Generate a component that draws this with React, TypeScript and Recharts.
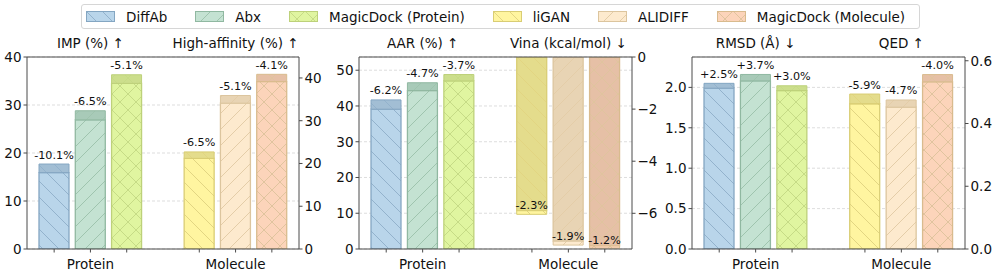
import React from "react";
import { BarChart, Bar, XAxis, YAxis, CartesianGrid, Cell, LabelList } from "recharts";

const FONT = "'DejaVu Sans', Verdana, sans-serif";
const SPINE = "#4a4a4a";
const TXT = "#111";

// x slots: three protein methods, an empty gap, three molecule methods
const slots = ["DiffAb", "Abx", "MagicDock (Protein)", " ", "liGAN", "ALIDIFF", "MagicDock (Molecule)"];
const groupLabels = ["", "Protein", "", "", "", "Molecule", ""];
const proteinKeys = ["diffab", "abx", "mdp"];
const moleculeKeys = ["ligan", "alidiff", "mdm"];

// IMP (%) ↑  (left axis, panel 1)
const impTotal = [17.7, 28.8, 36.3];
const impInner = [15.9, 26.9, 34.5];
const impPct = ["-10.1%", "-6.5%", "-5.1%"];
// High-affinity (%) ↑  (right axis, panel 1)
const affTotal = [22.7, 35.9, 40.85];
const affInner = [21.2, 34.1, 39.15];
const affPct = ["-6.5%", "-5.1%", "-4.1%"];
// AAR (%) ↑
const aarTotal = [41.7, 46.5, 48.8];
const aarInner = [39.1, 44.3, 47.0];
const aarPct = ["-6.2%", "-4.7%", "-3.7%"];
// Vina (kcal/mol) ↓
const vinaTotal = [-6.04, -7.22, -7.34];
const vinaInner = [-5.9, -7.07, -7.25];
const vinaPct = ["-2.3%", "-1.9%", "-1.2%"];
// RMSD (Å) ↓
const rmsdTotal = [2.05, 2.16, 2.02];
const rmsdInner = [1.99, 2.08, 1.96];
const rmsdPct = ["+2.5%", "+3.7%", "+3.0%"];
// QED ↑
const qedTotal = [0.494, 0.475, 0.556];
const qedInner = [0.463, 0.452, 0.533];
const qedPct = ["-5.9%", "-4.7%", "-4.0%"];

const legendNames = ["DiffAb", "Abx", "MagicDock (Protein)", "liGAN", "ALIDIFF", "MagicDock (Molecule)"];
const legendKeys = [...proteinKeys, ...moleculeKeys];

const styles: Record<string, { light: string; dark: string; edge: string; hatch: string; kind: string }> = {
  diffab: { light: "#b9d5ea", dark: "#a2bed4", edge: "#84a6c2", hatch: "#93b2cc", kind: "back" },
  abx: { light: "#c4e2d2", dark: "#a8cab8", edge: "#90b8a1", hatch: "#9fc4ae", kind: "fwd" },
  mdp: { light: "#e0f5a0", dark: "#ccde8c", edge: "#bdd17a", hatch: "#c6db86", kind: "cross" },
  ligan: { light: "#fff5a0", dark: "#e4dc8c", edge: "#d9cd74", hatch: "#e2d582", kind: "back" },
  alidiff: { light: "#fdeace", dark: "#e8d4b4", edge: "#dcc59e", hatch: "#e4cda8", kind: "fwd" },
  mdm: { light: "#fcd4ba", dark: "#e6c0a6", edge: "#d9bb8e", hatch: "#e0c49e", kind: "cross" },
};

function buildRows(lTot: number[], lIn: number[], lPct: string[], rTot: number[], rIn: number[], rPct: string[]) {
  return slots.map((slot, i) => {
    if (i < 3) return { slot, lInner: lIn[i], lBand: lTot[i] - lIn[i], lPct: lPct[i] };
    if (i > 3) return { slot, rInner: rIn[i - 4], rBand: rTot[i - 4] - rIn[i - 4], rPct: rPct[i - 4] };
    return { slot };
  });
}

const keyOf = (i: number) => (i < 3 ? proteinKeys[i] : i > 3 ? moleculeKeys[i - 4] : null);

function Hatch({ id, bg, line, kind }: { id: string; bg: string; line: string; kind: string }) {
  const s = 16;
  const back = `M0,0 L${s},${s} M${-s / 4},${(3 * s) / 4} L${s / 4},${(5 * s) / 4} M${(3 * s) / 4},${-s / 4} L${(5 * s) / 4},${s / 4}`;
  const fwd = `M0,${s} L${s},0 M${-s / 4},${s / 4} L${s / 4},${-s / 4} M${(3 * s) / 4},${(5 * s) / 4} L${(5 * s) / 4},${(3 * s) / 4}`;
  const d = kind === "back" ? back : kind === "fwd" ? fwd : back + " " + fwd;
  return (
    <pattern id={id} patternUnits="userSpaceOnUse" width={s} height={s}>
      <rect width={s} height={s} fill={bg} />
      <path d={d} stroke={line} strokeWidth={1} fill="none" />
    </pattern>
  );
}

function patternDefs(prefix: string) {
  return Object.keys(styles).flatMap((k) => [
    <Hatch key={k + "l"} id={`${prefix}-${k}-light`} bg={styles[k].light} line={styles[k].hatch} kind={styles[k].kind} />,
    <Hatch key={k + "d"} id={`${prefix}-${k}-dark`} bg={styles[k].dark} line={styles[k].hatch} kind={styles[k].kind} />,
  ]);
}

const bottomTick = (props: any) => {
  const { x, y, index } = props;
  return (
    <g>
      {index !== 3 && <line x1={x} x2={x} y1={y} y2={y + 3.5} stroke={SPINE} strokeWidth={1} />}
      {groupLabels[index] && (
        <text x={x} y={y + 20} textAnchor="middle" fontSize={13.5} fill={TXT}>
          {groupLabels[index]}
        </text>
      )}
    </g>
  );
};

const topTick = (titles: string[]) => (props: any) => {
  const { x, y, index } = props;
  const t = index === 1 ? titles[0] : index === 5 ? titles[1] : "";
  if (!t) return <g />;
  return (
    <text x={x} y={y - 9.5} textAnchor="middle" fontSize={13.5} fill={TXT}>
      {t}
    </text>
  );
};

const pctLabel = (gap: number) => (props: any) => {
  const vb = props.viewBox || props;
  const { x, y, width, height } = vb;
  const value = props.value;
  if (!value) return null;
  const top = Math.min(Number(y), Number(y) + Number(height));
  return (
    <text x={Number(x) + Number(width) / 2} y={top - gap} textAnchor="middle" fontSize={11.2} fill={TXT}>
      {value}
    </text>
  );
};

type AxisCfg = { domain: [number, number]; ticks: number[]; fmt: (v: number) => string; width: number };

function Panel(p: {
  id: string;
  left: number;
  width: number;
  rows: any[];
  la: AxisCfg;
  ra: AxisCfg;
  titles: string[];
  gapR: number;
  invertR?: boolean;
}) {
  const tickStyle = { fill: TXT, fontSize: 13.5 };
  const shade = (i: number, part: "inner" | "band", invert?: boolean) => {
    const k = keyOf(i);
    if (!k) return "none";
    const dark = part === "band" ? !invert : !!invert;
    return `url(#${p.id}-${k}-${dark ? "dark" : "light"})`;
  };
  const edge = (i: number) => {
    const k = keyOf(i);
    return k ? styles[k].edge : "none";
  };
  return (
    <div style={{ position: "absolute", left: p.left, top: 30 }}>
      <BarChart
        width={p.width}
        height={246}
        data={p.rows}
        margin={{ top: 0, right: 0, bottom: 0, left: 0 }}
        barGap={-30}
        barSize={30}
      >
        <defs>{patternDefs(p.id)}</defs>
        <CartesianGrid yAxisId="left" vertical={false} stroke="#d4d4d4" strokeDasharray="3 2" strokeWidth={0.8} />
        <XAxis
          dataKey="slot"
          interval={0}
          height={27}
          tickSize={0}
          tickMargin={0}
          tickLine={false}
          axisLine={{ stroke: SPINE }}
          padding={{ left: 9, right: 9 }}
          tick={bottomTick}
        />
        <XAxis
          xAxisId="top"
          orientation="top"
          dataKey="slot"
          interval={0}
          height={27}
          tickSize={0}
          tickMargin={0}
          tickLine={false}
          axisLine={{ stroke: SPINE }}
          padding={{ left: 9, right: 9 }}
          tick={topTick(p.titles)}
        />
        <YAxis
          yAxisId="left"
          orientation="left"
          width={p.la.width}
          domain={p.la.domain}
          ticks={p.la.ticks}
          tickFormatter={p.la.fmt}
          allowDataOverflow
          tickSize={3.5}
          tickMargin={2}
          tick={tickStyle}
          axisLine={{ stroke: SPINE }}
          tickLine={{ stroke: SPINE }}
        />
        <YAxis
          yAxisId="right"
          orientation="right"
          width={p.ra.width}
          domain={p.ra.domain}
          ticks={p.ra.ticks}
          tickFormatter={p.ra.fmt}
          allowDataOverflow
          tickSize={3.5}
          tickMargin={2}
          tick={tickStyle}
          axisLine={{ stroke: SPINE }}
          tickLine={{ stroke: SPINE }}
        />
        <Bar yAxisId="left" dataKey="lInner" stackId="L" isAnimationActive={false} strokeWidth={1.3}>
          {p.rows.map((_, i) => (
            <Cell key={i} fill={shade(i, "inner")} stroke={edge(i)} />
          ))}
        </Bar>
        <Bar yAxisId="left" dataKey="lBand" stackId="L" isAnimationActive={false} strokeWidth={1}>
          {p.rows.map((_, i) => (
            <Cell key={i} fill={shade(i, "band")} stroke={edge(i)} />
          ))}
          <LabelList dataKey="lPct" content={pctLabel(5.5)} />
        </Bar>
        <Bar yAxisId="right" dataKey="rInner" stackId="R" isAnimationActive={false} strokeWidth={1.3}>
          {p.rows.map((_, i) => (
            <Cell key={i} fill={shade(i, "inner", p.invertR)} stroke={edge(i)} />
          ))}
        </Bar>
        <Bar yAxisId="right" dataKey="rBand" stackId="R" isAnimationActive={false} strokeWidth={1}>
          {p.rows.map((_, i) => (
            <Cell key={i} fill={shade(i, "band", p.invertR)} stroke={edge(i)} />
          ))}
          <LabelList dataKey="rPct" content={pctLabel(p.gapR)} />
        </Bar>
      </BarChart>
    </div>
  );
}

function Legend() {
  return (
    <div
      style={{
        position: "absolute",
        left: 81,
        top: 4,
        width: 833,
        height: 23,
        border: "1px solid #d6d6d6",
        borderRadius: 3,
        display: "flex",
        alignItems: "center",
        paddingLeft: 4,
        boxSizing: "content-box",
        fontSize: 13.5,
        color: TXT,
      }}
    >
      <svg width={0} height={0} style={{ position: "absolute" }}>
        <defs>{patternDefs("lg")}</defs>
      </svg>
      {legendNames.map((name, i) => (
        <div key={name} style={{ display: "flex", alignItems: "center", marginRight: 28 }}>
          <svg width={29} height={11} style={{ marginRight: 11, display: "block" }}>
            <rect x={0.5} y={0.5} width={28} height={10} fill={`url(#lg-${legendKeys[i]}-light)`} stroke={styles[legendKeys[i]].edge} />
          </svg>
          <span style={{ whiteSpace: "nowrap" }}>{name}</span>
        </div>
      ))}
    </div>
  );
}

const fmtInt = (v: number) => String(v).replace("-", "\u2212");
const fmt1 = (v: number) => v.toFixed(1);

export default function App() {
  const rows1 = buildRows(impTotal, impInner, impPct, affTotal, affInner, affPct);
  const rows2 = buildRows(aarTotal, aarInner, aarPct, vinaTotal, vinaInner, vinaPct);
  const rows3 = buildRows(rmsdTotal, rmsdInner, rmsdPct, qedTotal, qedInner, qedPct);
  return (
    <div
      style={{
        position: "absolute",
        left: 0,
        top: 0,
        width: 996,
        height: 276,
        background: "#fff",
        fontFamily: FONT,
        overflow: "hidden",
      }}
    >
      <Legend />
      <Panel
        id="p1"
        left={0}
        width={330}
        rows={rows1}
        la={{ domain: [0, 40], ticks: [0, 10, 20, 30, 40], fmt: fmtInt, width: 27 }}
        ra={{ domain: [0, 44.9], ticks: [0, 10, 20, 30, 40], fmt: fmtInt, width: 31 }}
        titles={["IMP (%) \u2191", "High-affinity (%) \u2191"]}
        gapR={5.5}
      />
      <Panel
        id="p2"
        left={330}
        width={330}
        rows={rows2}
        la={{ domain: [0, 53.7], ticks: [0, 10, 20, 30, 40, 50], fmt: fmtInt, width: 29 }}
        ra={{ domain: [-7.37, 0], ticks: [-6, -4, -2, 0], fmt: fmtInt, width: 28 }}
        titles={["AAR (%) \u2191", "Vina (kcal/mol) \u2193"]}
        gapR={1.5}
        invertR
      />
      <Panel
        id="p3"
        left={660}
        width={336}
        rows={rows3}
        la={{ domain: [0, 2.376], ticks: [0, 0.5, 1, 1.5, 2], fmt: fmt1, width: 32 }}
        ra={{ domain: [0, 0.612], ticks: [0, 0.2, 0.4, 0.6], fmt: fmt1, width: 31 }}
        titles={["RMSD (\u00c5) \u2193", "QED \u2191"]}
        gapR={5.5}
      />
    </div>
  );
}
